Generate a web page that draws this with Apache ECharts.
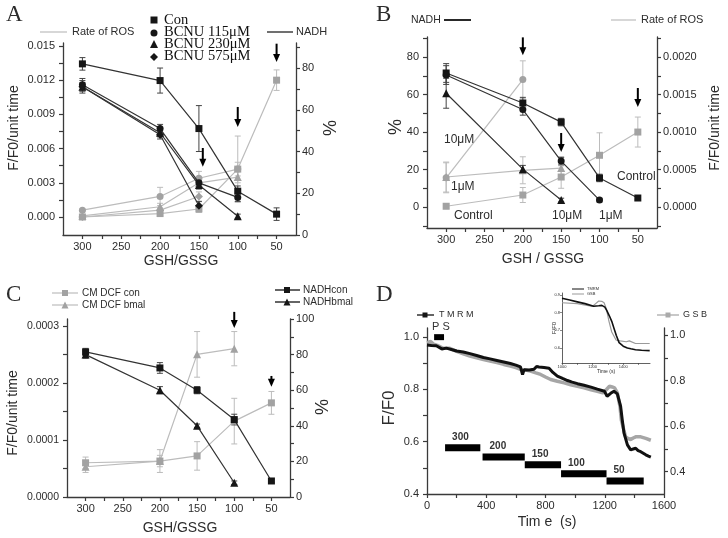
<!DOCTYPE html>
<html><head><meta charset="utf-8">
<script src="https://cdn.jsdelivr.net/npm/echarts@6.0.0/dist/echarts.min.js"></script>
<style>html,body{margin:0;padding:0;background:#fff}#c{width:728px;height:538px}</style>
</head><body><div id="c"></div>
<script>
// ================= DATA =================
const ratioLabels = [300, 250, 200, 150, 100, 50];
const ratioTicks = [50, 75, 100, 125, 150, 175, 200, 225, 250, 275, 300];
const xRatio = [300, 200, 150, 100, 50];

// Panel A (NADH % on right axis, ROS rate on left axis)
const aConNADH = [82, 74, 51, 21, 10];
const aConNADHErr = [3, 6, 11, 2.5, 3];
const a115NADH = [72, 51, 25, 18];
const a115NADHErr = [3, 2, 2, 2];
const a230NADH = [71, 49, 24, 9];
const a230NADHErr = [3, 2, 2, 1];
const a575NADH = [71, 48, 14];
const a575NADHErr = [2, 2, 2];
const aConROS = [0.0000, 0.0003, 0.0007, 0.0042, 0.0120];
const aConROSErr = [0.0001, 0.0002, 0.0003, 0.0029, 0.0009];
const a115ROS = [0.0006, 0.0018, 0.0034, 0.0042];
const a115ROSErr = [0.0001, 0.0008, 0.0006, 0.0006];
const a230ROS = [0.0001, 0.0009, 0.0030, 0.0035];
const a230ROSErr = [0.0001, 0.0003, 0.0005, 0.0005];
const a575ROS = [0.0000, 0.0006, 0.0018];
const a575ROSErr = [0.0001, 0.0002, 0.0004];
const aLeftLabels = [0, 0.003, 0.006, 0.009, 0.012, 0.015];
const aRightLabels = [0, 20, 40, 60, 80];

// Panel B (NADH % on left axis, ROS rate on right axis)
const bConNADH = [71.5, 55.5, 45.3, 15.5, 4.8];
const bConNADHErr = [5, 3, 2, 2, 1];
const b1NADH = [70.4, 52, 24.5, 3.7];
const b1NADHErr = [5, 3, 2, 1];
const b10NADH = [60.7, 20.2, 3.7];
const b10NADHErr = [8, 2, 1];
const bConROS = [0.00001, 0.00016, 0.0004, 0.00069, 0.001];
const bConROSErr = [0.00003, 0.0001, 0.00015, 0.0003, 0.0002];
const b1ROS = [0.0004, 0.00049, 0.00052];
const b1ROSErr = [0.0002, 0.00018, 0.00015];
const b10ROS = [0.00039, 0.0017];
const b10ROSErr = [0.0002, 0.00025];
const bLeftLabels = [0, 20, 40, 60, 80];
const bRightLabels = [0, 0.0005, 0.001, 0.0015, 0.002];

// Panel C (CM-DCF rate on left axis, NADH % on right axis)
const cConNADH = [81.5, 72.5, 60, 43.5, 9];
const cConNADHErr = [2, 3, 2, 3, 1];
const cBmalNADH = [80, 60, 40, 8];
const cBmalNADHErr = [2, 2, 1, 1];
const cConDCF = [0.00006, 0.000063, 0.000072, 0.000133, 0.000165];
const cConDCFErr = [0.00001, 0.00002, 0.000025, 0.00004, 0.00002];
const cBmalDCF = [0.000053, 0.000063, 0.00025, 0.00026];
const cBmalDCFErr = [0.00001, 0.00001, 0.00004, 0.00003];
const cLeftLabels = [0, 0.0001, 0.0002, 0.0003];
const cRightLabels = [0, 20, 40, 60, 80, 100];

// Panel D (time course)
const tmrmTime = [0, 30, 63, 100, 131, 170, 200, 245, 290, 300, 335, 381, 426, 472, 518, 563, 600, 631, 645, 655, 665, 690, 722, 740, 756, 790, 824, 850, 880, 915, 948, 980, 1016, 1060, 1107, 1150, 1198, 1216, 1240, 1262, 1285, 1296, 1307, 1318, 1330, 1353, 1375, 1392, 1409, 1425, 1443, 1460, 1477, 1495, 1511];
const tmrmValue = [0.970, 0.968, 0.967, 0.955, 0.958, 0.952, 0.947, 0.943, 0.937, 0.940, 0.930, 0.922, 0.917, 0.911, 0.905, 0.899, 0.893, 0.886, 0.857, 0.875, 0.877, 0.874, 0.877, 0.888, 0.886, 0.884, 0.881, 0.865, 0.851, 0.842, 0.834, 0.828, 0.822, 0.816, 0.809, 0.801, 0.793, 0.774, 0.785, 0.793, 0.783, 0.780, 0.736, 0.684, 0.633, 0.588, 0.569, 0.572, 0.575, 0.566, 0.562, 0.556, 0.550, 0.545, 0.541];
const gsbTime = [0, 25, 45, 70, 109, 154, 200, 245, 290, 335, 381, 426, 472, 518, 563, 600, 631, 665, 699, 735, 767, 800, 835, 880, 926, 970, 1016, 1060, 1107, 1150, 1187, 1210, 1232, 1250, 1266, 1285, 1303, 1312, 1326, 1341, 1360, 1375, 1392, 1409, 1443, 1477, 1511];
const gsbValue = [0.967, 0.972, 0.960, 0.955, 0.942, 0.942, 0.928, 0.918, 0.908, 0.900, 0.893, 0.886, 0.879, 0.871, 0.864, 0.857, 0.849, 0.846, 0.842, 0.834, 0.827, 0.816, 0.805, 0.797, 0.790, 0.782, 0.775, 0.768, 0.760, 0.753, 0.746, 0.760, 0.775, 0.772, 0.768, 0.746, 0.686, 0.627, 0.590, 0.553, 0.545, 0.541, 0.548, 0.553, 0.553, 0.546, 0.538];
const concLabels = ['300', '200', '150', '100', '50'];
const concStart = [122, 375, 660, 905, 1212];
const concEnd = [360, 660, 905, 1212, 1463];
const concLevel = [0.577, 0.542, 0.512, 0.477, 0.45];
const psLabel = ['P S'];
const psStart = [48];
const psEnd = [115];
const psLevel = [1.0];
const dTimeLabels = [0, 400, 800, 1200, 1600];
const dLeftLabels = [0.4, 0.6, 0.8, 1.0];
const dRightLabels = [0.4, 0.6, 0.8, 1.0];

// Inset
const insetTmrmTime = [1000, 1050, 1100, 1150, 1207, 1240, 1260, 1280, 1293, 1310, 1325, 1340, 1355, 1373, 1400, 1427, 1450, 1480, 1520, 1573];
const insetTmrmValue = [0.88, 0.87, 0.86, 0.85, 0.835, 0.838, 0.84, 0.83, 0.81, 0.78, 0.75, 0.71, 0.67, 0.63, 0.61, 0.60, 0.595, 0.59, 0.587, 0.585];
const insetGsbTime = [1000, 1100, 1200, 1220, 1240, 1260, 1275, 1290, 1307, 1325, 1353, 1380, 1420, 1440, 1480, 1573];
const insetGsbValue = [0.855, 0.85, 0.835, 0.85, 0.865, 0.863, 0.855, 0.82, 0.75, 0.69, 0.645, 0.64, 0.635, 0.64, 0.625, 0.625];
const insetTimeLabels = [1000, 1200, 1400];
const insetYLabels = [0.6, 0.7, 0.8, 0.9];

// Arrow annotations [x, yTop, yBottom] in axis units
const arrowsA = [[50, 0.0152, 0.0136], [100, 0.00965, 0.0079], [145, 0.00605, 0.0044]];
const arrowsB = [[200, 90.5, 81], [150, 39.5, 29.3], [50, 63.5, 53.3]];
const arrowsC = [[100, 104, 95], [50, 68, 62]];

// ================= STYLE =================
const AX = '#3a3a3a', TX = '#2c2c2c', BLK = '#161616', GL = '#bcbcbc', GM = '#a2a2a2';
const SANS = "'Liberation Sans', Arial, sans-serif";
const SERIF = "'Liberation Serif', 'Times New Roman', serif";

function steps(a, b, s) { const r = []; for (let v = a; v <= b + 1e-12; v += s) r.push(+v.toFixed(7)); return r; }

function vAxis(gi, pos, min, max, labels, ticks, fmt, extra) {
  return Object.assign({
    type: 'value', gridIndex: gi, position: pos, min: min, max: max,
    axisLine: { show: true, onZero: false, lineStyle: { color: AX, width: 1.3 } },
    axisTick: { show: true, inside: false, length: 4, customValues: ticks, lineStyle: { color: AX, width: 1.2 } },
    axisLabel: { show: true, customValues: labels, formatter: fmt, color: TX, fontFamily: SANS, fontSize: 11, margin: 6 },
    splitLine: { show: false }
  }, extra || {});
}

function lineS(xi, yi, xs, ys, symbol, size, mColor, lColor, z) {
  return {
    type: 'line', xAxisIndex: xi, yAxisIndex: yi, animation: false, silent: true,
    data: ys.map((y, i) => [xs[i], y]), symbol: symbol, symbolSize: size, showSymbol: true,
    lineStyle: { color: lColor, width: 1.2 }, itemStyle: { color: mColor, borderWidth: 0 }, z: z || 3
  };
}

function errS(xi, yi, xs, ys, es, color) {
  return {
    type: 'custom', xAxisIndex: xi, yAxisIndex: yi, silent: true, animation: false, z: 2, clip: false,
    data: ys.map((y, i) => [xs[i], y - es[i], y + es[i]]),
    renderItem: function (params, api) {
      const a = api.coord([api.value(0), api.value(1)]);
      const b = api.coord([api.value(0), api.value(2)]);
      const st = { stroke: color, lineWidth: 1 };
      return { type: 'group', children: [
        { type: 'line', shape: { x1: a[0], y1: a[1], x2: b[0], y2: b[1] }, style: st },
        { type: 'line', shape: { x1: a[0] - 3, y1: a[1], x2: a[0] + 3, y2: a[1] }, style: st },
        { type: 'line', shape: { x1: b[0] - 3, y1: b[1], x2: b[0] + 3, y2: b[1] }, style: st }
      ] };
    }
  };
}

function arrowS(xi, yi, list) {
  return {
    type: 'custom', xAxisIndex: xi, yAxisIndex: yi, silent: true, animation: false, z: 6, clip: false,
    data: list,
    renderItem: function (params, api) {
      const t = api.coord([api.value(0), api.value(1)]);
      const b = api.coord([api.value(0), api.value(2)]);
      return { type: 'group', children: [
        { type: 'line', shape: { x1: t[0], y1: t[1], x2: b[0], y2: b[1] - 6 }, style: { stroke: '#000', lineWidth: 2 } },
        { type: 'polygon', shape: { points: [[b[0] - 3.5, b[1] - 8], [b[0] + 3.5, b[1] - 8], [b[0], b[1]]] }, style: { fill: '#000' } }
      ] };
    }
  };
}

function barS(xi, yi, labels, starts, ends, levels, h, font, dx) {
  return {
    type: 'custom', xAxisIndex: xi, yAxisIndex: yi, silent: true, animation: false, z: 5, clip: false,
    data: starts.map((s, i) => [s, levels[i], ends[i], i]),
    renderItem: function (params, api) {
      const s = api.coord([api.value(0), api.value(1)]);
      const e = api.coord([api.value(2), api.value(1)]);
      return { type: 'group', children: [
        { type: 'rect', shape: { x: s[0], y: s[1] - h / 2, width: e[0] - s[0], height: h }, style: { fill: '#000' } },
        { type: 'text', x: s[0] + dx, y: s[1] - h / 2 - 2, style: { text: labels[api.value(3)], fill: '#333', font: font, align: 'left', verticalAlign: 'bottom' } }
      ] };
    }
  };
}

// ================= AXES =================
const fmt3 = v => v.toFixed(3), fmt4 = v => v.toFixed(4), fmt0 = v => String(Math.round(v)), fmt1 = v => v.toFixed(1);

const grids = [
  { left: 63, top: 43, width: 233, height: 192 },
  { left: 427, top: 37, width: 230, height: 191 },
  { left: 67, top: 319, width: 223, height: 178 },
  { left: 427, top: 328, width: 237, height: 166 },
  { left: 562, top: 293, width: 88, height: 70 }
];

const xAxes = [
  vAxis(0, 'bottom', 25, 325, ratioLabels, ratioTicks, fmt0, { inverse: true }),
  vAxis(1, 'bottom', 25, 325, ratioLabels, ratioTicks, fmt0, { inverse: true }),
  vAxis(2, 'bottom', 25, 325, ratioLabels, ratioTicks, fmt0, { inverse: true }),
  vAxis(3, 'bottom', 0, 1600, dTimeLabels, steps(0, 1600, 200), fmt0),
  vAxis(4, 'bottom', 1000, 1575, insetTimeLabels, steps(1000, 1500, 100), fmt0)
];
xAxes[4].axisLabel.fontSize = 4; xAxes[4].axisLabel.margin = 2; xAxes[4].axisTick.length = 2;
xAxes[4].axisLine.lineStyle.width = 0.8; xAxes[4].axisTick.lineStyle.width = 0.6;

const yAxes = [
  vAxis(0, 'left', -0.00158, 0.01526, aLeftLabels, steps(0, 0.015, 0.0015), fmt3, { axisLabel: { customValues: aLeftLabels, formatter: fmt3, color: TX, fontFamily: SANS, fontSize: 11, margin: 8 } }),
  vAxis(0, 'right', 0, 92, aRightLabels, steps(0, 90, 10), fmt0),
  vAxis(1, 'left', -11.2, 90.7, bLeftLabels, steps(-10, 90, 10), fmt0, { axisLabel: { customValues: bLeftLabels, formatter: fmt0, color: TX, fontFamily: SANS, fontSize: 11, margin: 8 } }),
  vAxis(1, 'right', -0.00028, 0.002268, bRightLabels, steps(-0.00025, 0.00225, 0.00025), fmt4),
  vAxis(2, 'left', 0, 0.000312, cLeftLabels, steps(0, 0.0003, 0.00005), fmt4, { axisLabel: { customValues: cLeftLabels, formatter: fmt4, color: TX, fontFamily: SANS, fontSize: 10.5, margin: 8 } }),
  vAxis(2, 'right', 0, 100, cRightLabels, steps(0, 100, 10), fmt0),
  vAxis(3, 'left', 0.4, 1.035, dLeftLabels, steps(0.4, 1.0, 0.1), fmt1, { axisLabel: { customValues: dLeftLabels, formatter: fmt1, color: TX, fontFamily: SANS, fontSize: 11, margin: 8 } }),
  vAxis(3, 'right', 0.302, 1.031, dRightLabels, steps(0.4, 1.0, 0.1), fmt1),
  vAxis(4, 'left', 0.515, 0.91, insetYLabels, insetYLabels, fmt1)
];
yAxes[8].axisLabel.fontSize = 4; yAxes[8].axisLabel.margin = 2; yAxes[8].axisTick.length = 2;
yAxes[8].axisLine.lineStyle.width = 0.8; yAxes[8].axisTick.lineStyle.width = 0.6;

// ================= SERIES =================
const series = [];
// Panel A: x0, yLeft 0, yRight 1
series.push(errS(0, 0, xRatio, aConROS, aConROSErr, GL));
series.push(errS(0, 0, xRatio, a115ROS, a115ROSErr, GL));
series.push(errS(0, 0, xRatio, a230ROS, a230ROSErr, GL));
series.push(errS(0, 0, xRatio, a575ROS, a575ROSErr, GL));
series.push(lineS(0, 0, xRatio, aConROS, 'rect', 7, GM, GL));
series.push(lineS(0, 0, xRatio, a115ROS, 'circle', 7, GM, GL));
series.push(lineS(0, 0, xRatio, a230ROS, 'triangle', 8, GM, GL));
series.push(lineS(0, 0, xRatio, a575ROS, 'diamond', 8, GM, GL));
series.push(errS(0, 1, xRatio, aConNADH, aConNADHErr, '#444'));
series.push(errS(0, 1, xRatio, a115NADH, a115NADHErr, '#444'));
series.push(errS(0, 1, xRatio, a230NADH, a230NADHErr, '#444'));
series.push(errS(0, 1, xRatio, a575NADH, a575NADHErr, '#444'));
series.push(lineS(0, 1, xRatio, aConNADH, 'rect', 7, BLK, '#333', 4));
series.push(lineS(0, 1, xRatio, a115NADH, 'circle', 7, BLK, '#333', 4));
series.push(lineS(0, 1, xRatio, a230NADH, 'triangle', 8, BLK, '#333', 4));
series.push(lineS(0, 1, xRatio, a575NADH, 'diamond', 8, BLK, '#333', 4));
series.push(arrowS(0, 0, arrowsA));

// Panel B: x1, yLeft 2 (%), yRight 3 (ROS)
series.push(errS(1, 3, xRatio, bConROS, bConROSErr, GL));
series.push(errS(1, 3, xRatio, b1ROS, b1ROSErr, GL));
series.push(errS(1, 3, xRatio, b10ROS, b10ROSErr, GL));
series.push(lineS(1, 3, xRatio, bConROS, 'rect', 7, GM, GL));
series.push(lineS(1, 3, xRatio, b1ROS, 'triangle', 8, GM, GL));
series.push(lineS(1, 3, xRatio, b10ROS, 'circle', 7, GM, GL));
series.push(errS(1, 2, xRatio, bConNADH, bConNADHErr, '#444'));
series.push(errS(1, 2, xRatio, b1NADH, b1NADHErr, '#444'));
series.push(errS(1, 2, xRatio, b10NADH, b10NADHErr, '#444'));
series.push(lineS(1, 2, xRatio, bConNADH, 'rect', 7, BLK, '#333', 4));
series.push(lineS(1, 2, xRatio, b1NADH, 'circle', 7, BLK, '#333', 4));
series.push(lineS(1, 2, xRatio, b10NADH, 'triangle', 8, BLK, '#333', 4));
series.push(arrowS(1, 2, arrowsB));

// Panel C: x2, yLeft 4 (DCF), yRight 5 (%)
series.push(errS(2, 4, xRatio, cConDCF, cConDCFErr, GL));
series.push(errS(2, 4, xRatio, cBmalDCF, cBmalDCFErr, GL));
series.push(lineS(2, 4, xRatio, cConDCF, 'rect', 7, GM, GL));
series.push(lineS(2, 4, xRatio, cBmalDCF, 'triangle', 8, GM, GL));
series.push(errS(2, 5, xRatio, cConNADH, cConNADHErr, '#444'));
series.push(errS(2, 5, xRatio, cBmalNADH, cBmalNADHErr, '#444'));
series.push(lineS(2, 5, xRatio, cConNADH, 'rect', 7, BLK, '#333', 4));
series.push(lineS(2, 5, xRatio, cBmalNADH, 'triangle', 8, BLK, '#333', 4));
series.push(arrowS(2, 5, arrowsC));

// Panel D: x3, yLeft 6 (TMRM), yRight 7 (GSB)
series.push({ type: 'line', xAxisIndex: 3, yAxisIndex: 7, animation: false, silent: true, showSymbol: false, symbol: 'none',
  data: gsbValue.map((v, i) => [gsbTime[i], v]), lineStyle: { color: '#a6a6a6', width: 3.5 }, z: 3 });
series.push({ type: 'line', xAxisIndex: 3, yAxisIndex: 6, animation: false, silent: true, showSymbol: false, symbol: 'none',
  data: tmrmValue.map((v, i) => [tmrmTime[i], v]), lineStyle: { color: '#111', width: 3 }, z: 4 });
series.push(barS(3, 6, concLabels, concStart, concEnd, concLevel, 7, "bold 10px " + SANS, 7));
series.push(barS(3, 6, psLabel, psStart, psEnd, psLevel, 6, "11px " + SANS, -2));

// Inset: x4, y8
series.push({ type: 'line', xAxisIndex: 4, yAxisIndex: 8, animation: false, silent: true, showSymbol: false, symbol: 'none',
  data: insetGsbValue.map((v, i) => [insetGsbTime[i], v]), lineStyle: { color: '#9a9a9a', width: 1.2 }, z: 3 });
series.push({ type: 'line', xAxisIndex: 4, yAxisIndex: 8, animation: false, silent: true, showSymbol: false, symbol: 'none',
  data: insetTmrmValue.map((v, i) => [insetTmrmTime[i], v]), lineStyle: { color: '#111', width: 1.6 }, z: 4 });

// ================= GRAPHIC (legends, titles, labels) =================
function T(text, x, y, size, opt) {
  opt = opt || {};
  return { type: 'text', x: x, y: y, rotation: opt.rot || 0, z: 100, silent: true,
    style: { text: text, fill: opt.fill || TX, font: (opt.weight || 'normal') + ' ' + size + 'px ' + (opt.family || SANS),
      align: opt.align || 'left', verticalAlign: opt.va || 'middle' } };
}
function Ln(x1, y1, x2, y2, color, w) {
  return { type: 'line', z: 100, silent: true, shape: { x1: x1, y1: y1, x2: x2, y2: y2 }, style: { stroke: color, lineWidth: w || 1.2 } };
}
function Mk(shape, cx, cy, s, color) {
  const h = s / 2;
  if (shape === 'rect') return { type: 'rect', z: 101, silent: true, shape: { x: cx - h, y: cy - h, width: s, height: s }, style: { fill: color } };
  if (shape === 'circle') return { type: 'circle', z: 101, silent: true, shape: { cx: cx, cy: cy, r: h }, style: { fill: color } };
  if (shape === 'triangle') return { type: 'polygon', z: 101, silent: true, shape: { points: [[cx, cy - h], [cx + h, cy + h], [cx - h, cy + h]] }, style: { fill: color } };
  return { type: 'polygon', z: 101, silent: true, shape: { points: [[cx, cy - h], [cx + h, cy], [cx, cy + h], [cx - h, cy]] }, style: { fill: color } };
}
const R90 = Math.PI / 2;
const graphics = [
  // Panel A
  T('A', 6, 15, 23, { family: SERIF }),
  Ln(40, 32, 67, 32, GL, 1.2), T('Rate of ROS', 72, 32, 11),
  Mk('rect', 154, 20, 7, BLK), T('Con', 164, 20, 14.5, { family: SERIF, fill: '#111' }),
  Mk('circle', 154, 33, 7, BLK), T('BCNU 115\u03bcM', 164, 32, 14.5, { family: SERIF, fill: '#111' }),
  Mk('triangle', 154, 44, 8, BLK), T('BCNU 230\u03bcM', 164, 44, 14.5, { family: SERIF, fill: '#111' }),
  Mk('diamond', 154, 57, 8, BLK), T('BCNU 575\u03bcM', 164, 56, 14.5, { family: SERIF, fill: '#111' }),
  Ln(267, 32, 293, 32, '#222', 1.3), T('NADH', 296, 32, 11),
  T('F/F0/unit time', 14, 128, 14, { rot: R90, align: 'center' }),
  T('%', 331, 128, 18, { rot: R90, align: 'center' }),
  T('GSH/GSSG', 181, 261, 14, { align: 'center' }),
  // Panel B
  T('B', 376, 15, 23, { family: SERIF }),
  T('NADH', 411, 20, 10.5), Ln(444, 20, 471, 20, '#111', 1.8),
  Ln(611, 20, 636, 20, GL, 1.2), T('Rate of ROS', 641, 20, 11),
  T('%', 396, 127, 18, { rot: R90, align: 'center' }),
  T('F/F0/unit time', 715, 128, 14, { rot: R90, align: 'center' }),
  T('GSH / GSSG', 543, 259, 14, { align: 'center' }),
  T('10\u03bcM', 444, 140, 12), T('1\u03bcM', 451, 187, 12), T('Control', 454, 216, 12),
  T('10\u03bcM', 552, 216, 12), T('1\u03bcM', 599, 216, 12), T('Control', 617, 177, 12),
  // Panel C
  T('C', 6, 295, 23, { family: SERIF }),
  Ln(52, 293, 78, 293, GL, 1.2), Mk('rect', 65, 293, 6, GM), T('CM DCF con', 82, 293, 10),
  Ln(52, 305, 78, 305, GL, 1.2), Mk('triangle', 65, 305, 7, GM), T('CM DCF bmal', 82, 305, 10),
  Ln(275, 290, 300, 290, '#111', 1.3), Mk('rect', 287, 290, 6, BLK), T('NADHcon', 303, 290, 10),
  Ln(275, 302, 300, 302, '#111', 1.3), Mk('triangle', 287, 302, 7, BLK), T('NADHbmal', 303, 302, 10),
  T('F/F0/unit time', 13, 413, 14, { rot: R90, align: 'center' }),
  T('%', 323, 407, 18, { rot: R90, align: 'center' }),
  T('GSH/GSSG', 180, 528, 14, { align: 'center' }),
  // Panel D
  T('D', 376, 295, 23, { family: SERIF }),
  Ln(417, 315, 434, 315, '#111', 1.3), Mk('rect', 425, 315, 5, BLK), T('T M R M', 439, 315, 9),
  Ln(657, 315, 679, 315, '#aaa', 1.3), Mk('rect', 668, 315, 5, '#aaa'), T('G S B', 683, 315, 9),
  T('F/F0', 389, 408, 17, { rot: R90, align: 'center' }),
  T('Tim e  (s)', 547, 522, 14, { align: 'center' }),
  // Inset texts
  Ln(572, 289, 584, 289, '#111', 1), T('TMRM', 587, 289, 4),
  Ln(572, 294, 584, 294, '#999', 1), T('GSB', 587, 294, 4),
  T('F/F0', 554, 328, 6, { rot: R90, align: 'center' }),
  T('Time (s)', 606, 372, 5, { align: 'center' })
];

const chart = echarts.init(document.getElementById('c'), null, { width: 728, height: 538 });
chart.setOption({
  animation: false,
  backgroundColor: '#fff',
  grid: grids,
  xAxis: xAxes,
  yAxis: yAxes,
  series: series,
  graphic: graphics
});
</script>
</body></html>
